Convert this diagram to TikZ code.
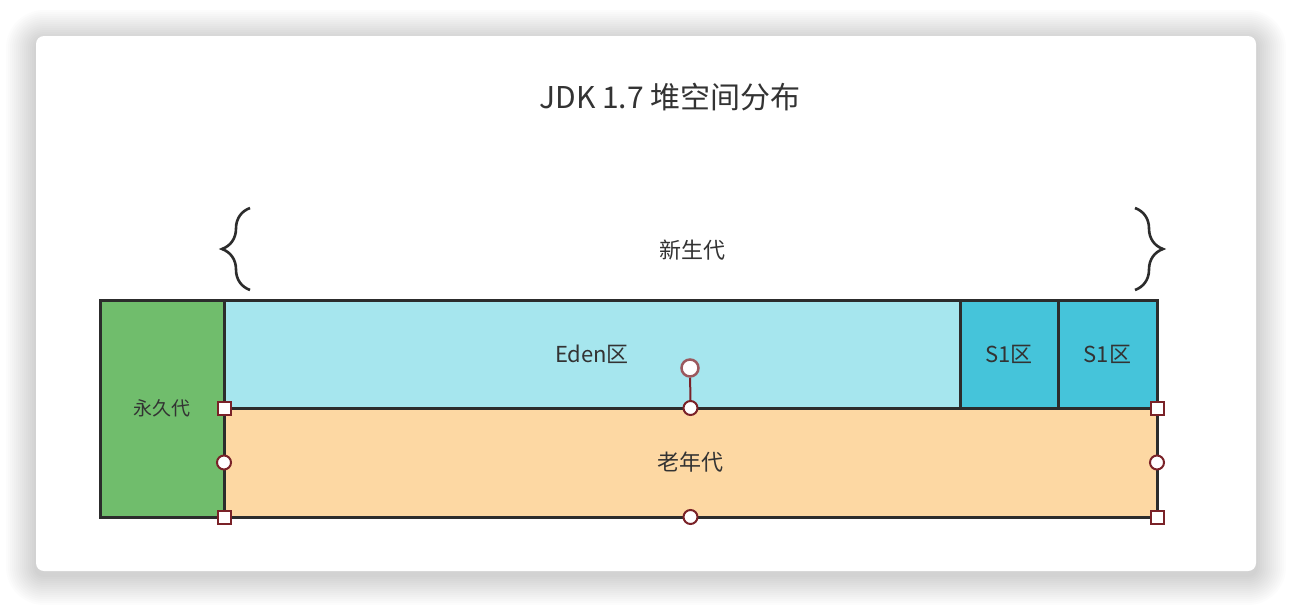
\documentclass[tikz,border=0pt]{standalone}
\usepackage{fontspec}
\setmainfont{Noto Sans CJK SC}
\usetikzlibrary{positioning, decorations.pathreplacing}
\definecolor{permgreen}{HTML}{70BD6C}
\definecolor{edencyan}{HTML}{A6E6EE}
\definecolor{survcyan}{HTML}{45C4DA}
\definecolor{oldorange}{HTML}{FDD8A3}
\definecolor{edgegray}{HTML}{2C2C2C}
\definecolor{handlered}{HTML}{7A2228}
\definecolor{textgray}{HTML}{333333}
\tikzset{
  every area/.style={
    rectangle,
    draw=edgegray,
    line width=3pt,
    inner sep=0pt,
    outer sep=0pt,
    anchor=north west,
    text=textgray
  },
}
\tikzstyle{area} = [every area, font=\fontsize{22}{22}\selectfont]
\tikzstyle{handlebox} = [rectangle, draw=handlered, fill=white, line width=2pt, minimum size=13pt, inner sep=0pt]
\tikzstyle{handledot} = [circle, draw=handlered, fill=white, line width=2pt, minimum size=14pt, inner sep=0pt]
\tikzstyle{brace} = [decorate, decoration={brace, amplitude=28pt}, line width=2.6pt, draw=edgegray]

\begin{document}
\begin{tikzpicture}[x=1pt, y=-1pt]
	\useasboundingbox (0,0) rectangle (1292,608);
	% card
	\foreach \d in {2,4,...,30}
		\fill[black, opacity=0.012, rounded corners=8+\d] (36-\d,40-\d) rectangle (1256+\d,575+\d);
	\fill[white, rounded corners=8pt] (36,36) rectangle (1256,571);
	\node [text=textgray, font=\fontsize{30}{30}\selectfont] (title) at (670,97) {JDK 1.7 堆空间分布};
	
	% blocks
	\node [area, fill=permgreen, minimum width=124pt, minimum height=217pt, font=\fontsize{19}{19}\selectfont] (perm) at (100,300) {永久代};
	\node [area, fill=edencyan, minimum width=736pt, minimum height=108pt] (eden) at (perm.north east) {Eden区};
	\node [area, fill=survcyan, minimum width=98pt, minimum height=108pt] (sa) at (eden.north east) {S1区};
	\node [area, fill=survcyan, minimum width=99pt, minimum height=108pt] (sb) at (sa.north east) {S1区};
	\node [area, fill=oldorange, minimum width=933pt, minimum height=109pt] (old) at (eden.south west) {老年代};
	\node [text=textgray, font=\fontsize{22}{22}\selectfont] (young) at (692,250) {新生代};
	
	% braces
	\coordinate (lbot) at (250,290);
	\coordinate (ltop) at (250,208);
	\coordinate (rtop) at (1135,208);
	\coordinate (rbot) at (1135,290);
	\draw [brace] (lbot) -- (ltop);
	\draw [brace] (rtop) -- (rbot);
	
	% handles
	\node [handlebox] (hnw) at (old.north west) {};
	\node [handlebox] (hne) at (old.north east) {};
	\node [handlebox] (hsw) at (old.south west) {};
	\node [handlebox] (hse) at (old.south east) {};
	\node [handledot] (hn) at (old.north) {};
	\node [handledot] (hs) at (old.south) {};
	\node [handledot] (hw) at (old.west) {};
	\node [handledot] (he) at (old.east) {};
	\node [handledot, minimum size=17pt, draw=handlered!75, line width=2.5pt] (hrot) at (690,368) {};
	\draw [handlered, line width=2pt] (hrot) -- (hn);
\end{tikzpicture}
\end{document}
